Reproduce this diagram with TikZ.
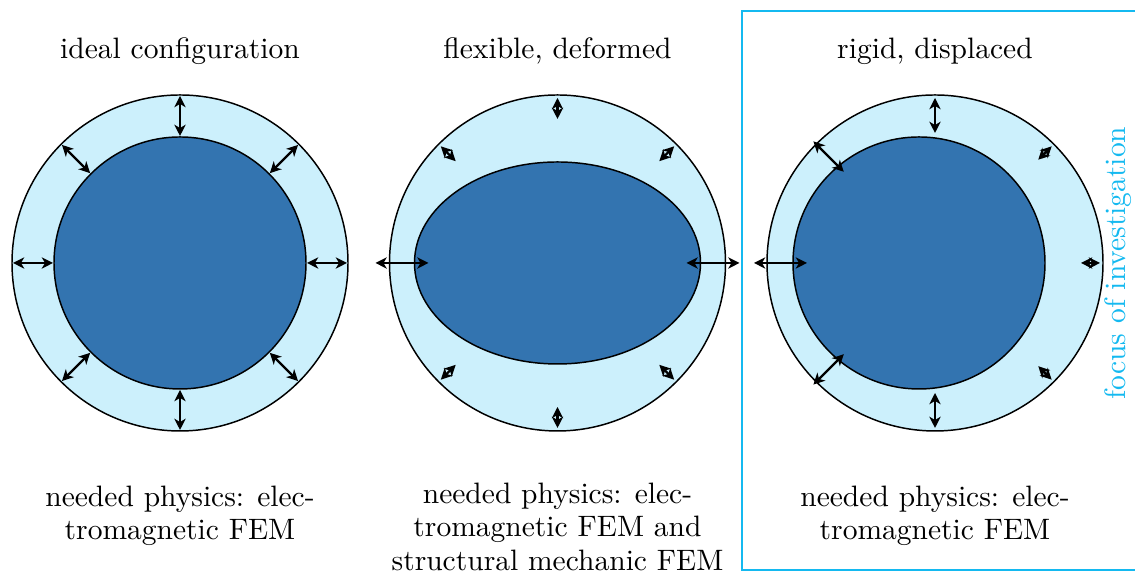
\documentclass[tikz,border=0pt]{standalone}
\usetikzlibrary{arrows.meta,calc}
\definecolor{gapblue}{RGB}{204,240,252}
\definecolor{rotorblue}{RGB}{51,116,176}
\definecolor{focuscyan}{RGB}{20,185,240}
\begin{document}
\begin{tikzpicture}[x=0.011905cm,y=0.011905cm,
  stator/.style={draw=black, fill=gapblue, line width=0.5pt},
  rotor/.style={draw=black, fill=rotorblue, line width=0.5pt},
  gaparrow/.style={{Stealth[length=3.8pt,width=3.8pt,inset=1.1pt]}-{Stealth[length=3.8pt,width=3.8pt,inset=1.1pt]}, line width=0.75pt},
  titletext/.style={font=\fontsize{10}{11.5}\selectfont, anchor=base, inner sep=0pt},
  physics/.style={font=\fontsize{10}{11.4}\selectfont, align=center, anchor=north, inner sep=0pt},
  focusbox/.style={draw=focuscyan, line width=0.7pt},
  focustext/.style={text=focuscyan, font=\fontsize{10}{11.5}\selectfont, rotate=90, inner sep=0pt}]
\useasboundingbox (0,0) rectangle (1135,573);

% focus box
\draw[focusbox] (742,3) rectangle (1160,562);
\node[focustext] (focus) at (1118,310) {focus of investigation};

% ideal configuration
\coordinate (c1) at (180,310);
\draw[stator] (c1) circle[radius=168];
\draw[rotor] (c1) circle[radius=126];
\foreach \a in {0,45,...,315}
  \draw[gaparrow] ($(c1)+(\a:127)$) -- ($(c1)+(\a:167)$);
\node[titletext] (t1) at (180,514) {ideal configuration};
\node[physics] (p1) at (180,88) {needed physics: elec-\\tromagnetic FEM};

% flexible, deformed
\coordinate (c2) at (557.5,310);
\draw[stator] (c2) circle[radius=168];
\draw[rotor] (c2) ellipse[x radius=143, y radius=101];
\foreach \a in {0,180}
  \draw[gaparrow] ($(c2)+(\a:129)$) -- ($(c2)+(\a:182)$);
\foreach \a in {45,90,135,225,270,315}
  \draw[gaparrow] ($(c2)+(\a:144)$) -- ($(c2)+(\a:165)$);
\node[titletext] (t2) at (557.5,514) {flexible, deformed};
\node[physics] (p2) at (557.5,91) {needed physics: elec-\\tromagnetic FEM and\\structural mechanic FEM};

% rigid, displaced
\coordinate (c3) at (935,310);
\coordinate (r3) at (919,310);
\draw[stator] (c3) circle[radius=168];
\draw[rotor] (r3) circle[radius=126];
\foreach \a in {90,270}
  \draw[gaparrow] ($(c3)+(\a:130)$) -- ($(c3)+(\a:165)$);
\draw[gaparrow] ($(c3)+(180:128)$) -- ($(c3)+(180:181)$);
\foreach \a in {135,225}
  \draw[gaparrow] ($(c3)+(\a:129)$) -- ($(c3)+(\a:172)$);
\foreach \a in {0,45,315}
  \draw[gaparrow] ($(c3)+(\a:146)$) -- ($(c3)+(\a:165)$);
\node[titletext] (t3) at (935,514) {rigid, displaced};
\node[physics] (p3) at (935,88) {needed physics: elec-\\tromagnetic FEM};
\end{tikzpicture}
\end{document}
